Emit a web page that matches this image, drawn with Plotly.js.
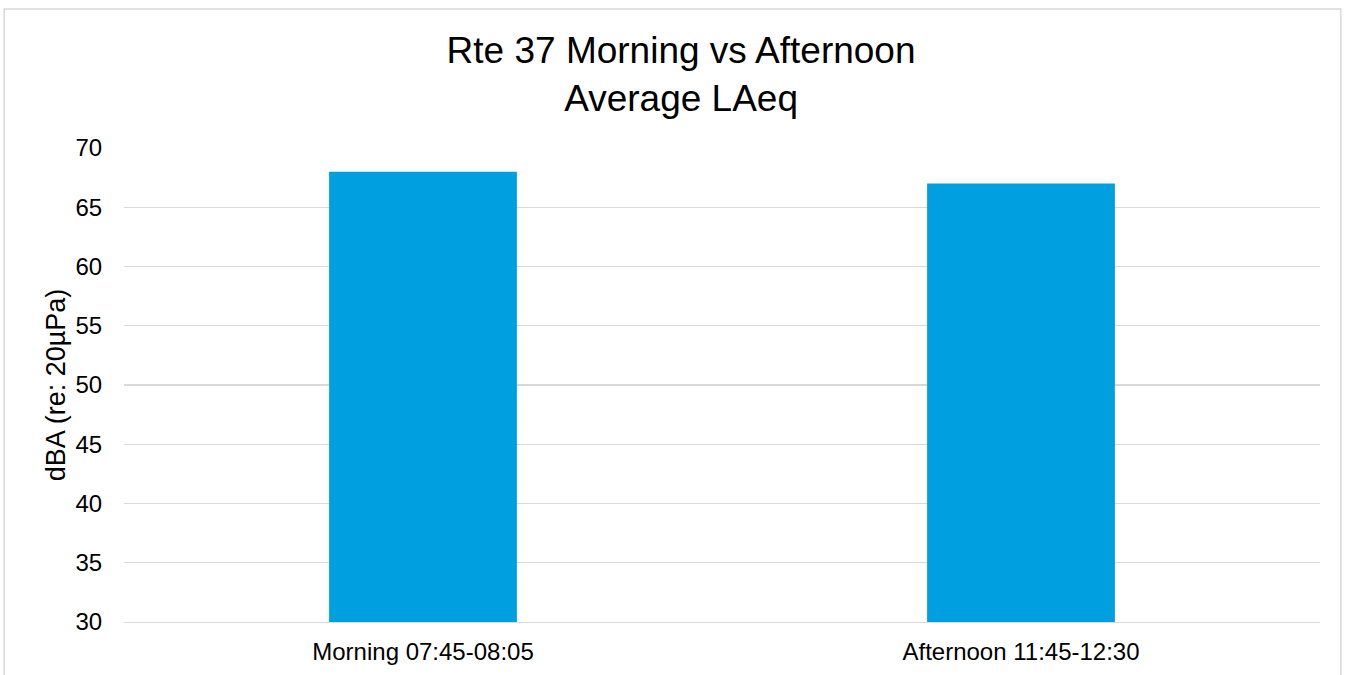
<!DOCTYPE html>
<html>
<head>
<meta charset="utf-8">
<script src="https://cdn.plot.ly/plotly-3.0.1.min.js"></script>
<style>
  html, body { margin: 0; padding: 0; background: #ffffff; }
  #chart { width: 1350px; height: 675px; }
</style>
</head>
<body>
<div id="chart"></div>
<script>
const categories = ["Morning 07:45-08:05", "Afternoon 11:45-12:30"];
const laeqValues = [68.0, 67.0];
const yTickValues = [30, 35, 40, 45, 50, 55, 60, 65, 70];
const chartTitle = "Rte 37 Morning vs Afternoon<br>Average LAeq";
const yAxisTitle = "dBA (re: 20µPa)";

const FONT = "Liberation Sans, Arial, Helvetica, sans-serif";
const GRID = "#d9d9d9";

const trace = {
  type: "bar",
  x: categories,
  y: laeqValues,
  marker: { color: "#009fe0", line: { width: 0 } },
  hoverinfo: "x+y"
};

const layout = {
  width: 1350,
  height: 675,
  paper_bgcolor: "#ffffff",
  plot_bgcolor: "#ffffff",
  margin: { l: 124, r: 30, t: 148, b: 53 },
  font: { family: FONT, color: "#000000" },
  showlegend: false,
  bargap: 0.686,
  title: {
    text: chartTitle,
    font: { family: FONT, size: 37, color: "#000000" },
    xref: "container",
    x: 0.5045,
    xanchor: "center",
    yref: "container",
    y: 0.907,
    yanchor: "top"
  },
  xaxis: {
    type: "category",
    showgrid: false,
    showline: true,
    linecolor: GRID,
    linewidth: 1.4,
    ticks: "outside",
    ticklen: 8,
    tickcolor: "rgba(0,0,0,0)",
    tickfont: { family: FONT, size: 24, color: "#000000" },
    fixedrange: true
  },
  yaxis: {
    range: [30, 70],
    tickvals: yTickValues,
    ticktext: yTickValues.map(String),
    showgrid: true,
    gridcolor: GRID,
    gridwidth: 1.4,
    zeroline: false,
    showline: false,
    ticks: "outside",
    ticklen: 16,
    tickcolor: "rgba(0,0,0,0)",
    tickfont: { family: FONT, size: 24, color: "#000000" },
    automargin: true,
    title: {
      text: yAxisTitle,
      font: { family: FONT, size: 27, color: "#000000" },
      standoff: 2
    },
    fixedrange: true
  },
  shapes: [{
    type: "rect",
    xref: "paper", yref: "paper",
    x0: -0.1002, x1: 1.0174,
    y0: -0.13, y1: 1.2935,
    line: { color: GRID, width: 1.5 },
    fillcolor: "rgba(0,0,0,0)",
    layer: "below"
  }]
};

Plotly.newPlot("chart", [trace], layout, { displayModeBar: false, staticPlot: true });
</script>
</body>
</html>
